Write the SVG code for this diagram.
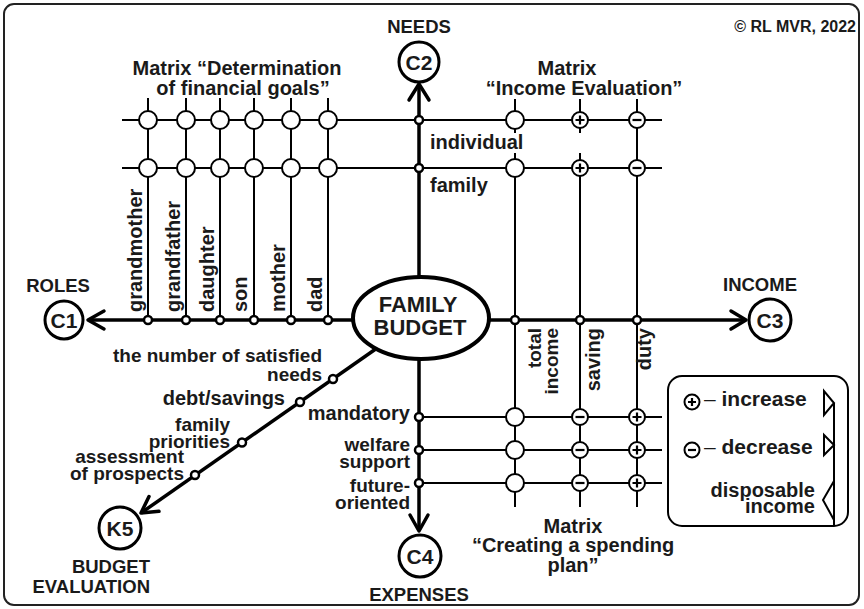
<svg xmlns="http://www.w3.org/2000/svg" width="864" height="609" viewBox="0 0 864 609">
<style>
.t{font-family:"Liberation Sans",Arial,Helvetica,sans-serif;font-weight:bold;font-size:20px;fill:#1a1a1a}
.m{text-anchor:middle}
.e{text-anchor:end}
.h{font-size:18.5px}
.n{font-size:19px}
.ax{stroke:#000;stroke-width:3.5;fill:none}
.ar{stroke:#000;stroke-width:3.5;fill:none;stroke-linecap:round;stroke-linejoin:round}
.ln{stroke:#000;stroke-width:2;fill:none}
.node{fill:#fff;stroke:#000;stroke-width:3}
.c{fill:#fff;stroke:#000;stroke-width:2}
.d{fill:#fff;stroke:#000;stroke-width:2.5}
.s{stroke:#000;stroke-width:2.2;fill:none}
</style>
<defs>
<g id="oc"><circle class="c" r="9"/></g>
<g id="pc"><circle class="c" r="8"/><path class="s" d="M-4.5 0H4.5M0 -4.5V4.5"/></g>
<g id="mc"><circle class="c" r="8"/><path class="s" d="M-4.5 0H4.5"/></g>
<circle id="dot" class="d" r="4"/>
</defs>
<rect x="4" y="4" width="855" height="601" rx="10" fill="#fff" stroke="#222" stroke-width="2"/>
<text class="t e" x="856" y="32" style="font-size:16px">© RL MVR, 2022</text>

<g id="connectors">
<path class="ln" d="M122 120H662M122 168H662"/>
<path class="ln" d="M148 98V320M186 98V320M220 98V320M254 98V320M291 98V320M328 98V320"/>
<path class="ln" d="M515 99V133M515 153V507M580 99V133M580 153V507M637 99V507"/>
<path class="ln" d="M419 417H662M419 450H662M419 483H662"/>
<path class="ax" d="M88 320H746"/>
<path class="ax" d="M419 84V531"/>
<path class="ax" d="M380 346L141 513"/>
<path class="ar" d="M104 311L88 320L104 329"/>
<path class="ar" d="M731 311L746 320L731 329"/>
<path class="ar" d="M409 100L419 84L429 100"/>
<path class="ar" d="M410 515L419 531L428 515"/>
<path class="ar" d="M149 496.5L141 513L159 511.3"/>
</g>

<g id="matrix-goals">
<use href="#oc" x="148" y="120"/><use href="#oc" x="186" y="120"/><use href="#oc" x="220" y="120"/><use href="#oc" x="254" y="120"/><use href="#oc" x="291" y="120"/><use href="#oc" x="328" y="120"/>
<use href="#oc" x="148" y="168"/><use href="#oc" x="186" y="168"/><use href="#oc" x="220" y="168"/><use href="#oc" x="254" y="168"/><use href="#oc" x="291" y="168"/><use href="#oc" x="328" y="168"/>
<use href="#dot" x="148" y="320"/><use href="#dot" x="186" y="320"/><use href="#dot" x="220" y="320"/><use href="#dot" x="254" y="320"/><use href="#dot" x="291" y="320"/><use href="#dot" x="328" y="320"/>
<text class="t" transform="translate(141.5,312) rotate(-90)">grandmother</text>
<text class="t" transform="translate(179.5,312) rotate(-90)">grandfather</text>
<text class="t" transform="translate(213.5,312) rotate(-90)">daughter</text>
<text class="t" transform="translate(247,312) rotate(-90)">son</text>
<text class="t" transform="translate(284.5,312) rotate(-90)">mother</text>
<text class="t" transform="translate(322,312) rotate(-90)">dad</text>
<text class="t m" x="237" y="75">Matrix “Determination</text>
<text class="t m" x="243" y="95">of financial goals”</text>
</g>

<g id="matrix-income">
<use href="#oc" x="515" y="120"/><use href="#pc" x="580" y="120"/><use href="#mc" x="637" y="120"/>
<use href="#oc" x="515" y="168"/><use href="#pc" x="580" y="168"/><use href="#mc" x="637" y="168"/>
<use href="#dot" x="419" y="120"/><use href="#dot" x="419" y="168"/>
<use href="#dot" x="515" y="320"/><use href="#dot" x="580" y="320"/><use href="#dot" x="637" y="320"/>
<text class="t" x="430" y="149">individual</text>
<text class="t" x="430" y="192">family</text>
<text class="t m" x="567" y="75">Matrix</text>
<text class="t m" x="584" y="95">“Income Evaluation”</text>
<text class="t e n" transform="translate(541,328) rotate(-90)">total</text>
<text class="t e n" transform="translate(558,328) rotate(-90)">income</text>
<text class="t e" transform="translate(599.5,328) rotate(-90)">saving</text>
<text class="t e" transform="translate(651,328) rotate(-90)">duty</text>
</g>

<g id="matrix-spending">
<use href="#oc" x="515" y="417"/><use href="#mc" x="580" y="417"/><use href="#pc" x="637" y="417"/>
<use href="#oc" x="515" y="450"/><use href="#mc" x="580" y="450"/><use href="#pc" x="637" y="450"/>
<use href="#oc" x="515" y="483"/><use href="#mc" x="580" y="483"/><use href="#pc" x="637" y="483"/>
<use href="#dot" x="419" y="417"/><use href="#dot" x="419" y="450"/><use href="#dot" x="419" y="483"/>
<text class="t e" x="410" y="420">mandatory</text>
<text class="t e n" x="410" y="451">welfare</text>
<text class="t e n" x="410" y="468">support</text>
<text class="t e n" x="410" y="492">future-</text>
<text class="t e n" x="410" y="509">oriented</text>
<text class="t m" x="573" y="533">Matrix</text>
<text class="t m" x="573" y="552">“Creating a spending</text>
<text class="t m" x="573" y="572">plan”</text>
</g>

<g id="evaluation-criteria">
<use href="#dot" x="333" y="379"/><use href="#dot" x="300" y="402"/><use href="#dot" x="242" y="442.5"/><use href="#dot" x="195" y="475"/>
<text class="t e n" x="322" y="362">the number of satisfied</text>
<text class="t e n" x="322" y="381">needs</text>
<text class="t e" x="285" y="405">debt/savings</text>
<text class="t e n" x="230" y="431">family</text>
<text class="t e n" x="230" y="448">priorities</text>
<text class="t e n" x="184" y="463">assessment</text>
<text class="t e n" x="184" y="480">of prospects</text>
</g>

<g id="family-budget">
<ellipse cx="421" cy="318" rx="68" ry="41" fill="#fff" stroke="#000" stroke-width="4"/>
<text class="t m" x="418" y="312" style="font-size:22px">FAMILY</text>
<text class="t m" x="420" y="335" style="font-size:22px">BUDGET</text>
</g>

<g id="C1">
<circle class="node" cx="64" cy="320" r="19"/>
<text class="t m" x="64" y="327.5" style="font-size:21px">C1</text>
<text class="t m h" x="58" y="292">ROLES</text>
</g>
<g id="C2">
<circle class="node" cx="419" cy="62" r="20"/>
<text class="t m" x="419" y="69.5" style="font-size:21px">C2</text>
<text class="t m h" x="419" y="33">NEEDS</text>
</g>
<g id="C3">
<circle class="node" cx="770" cy="320" r="21"/>
<text class="t m" x="770" y="327.5" style="font-size:21px">C3</text>
<text class="t m h" x="760" y="291">INCOME</text>
</g>
<g id="C4">
<circle class="node" cx="420" cy="556" r="21"/>
<text class="t m" x="420" y="563.5" style="font-size:21px">C4</text>
<text class="t m h" x="419" y="601">EXPENSES</text>
</g>
<g id="K5">
<circle class="node" cx="120" cy="528" r="21"/>
<text class="t m" x="120" y="535.5" style="font-size:21px">K5</text>
<text class="t e h" x="150" y="573">BUDGET</text>
<text class="t e h" x="150" y="593">EVALUATION</text>
</g>

<g id="legend">
<rect x="668" y="376" width="180" height="150" rx="14" fill="#fff" stroke="#000" stroke-width="2"/>
<circle class="c" cx="692" cy="402" r="7.5"/><path class="s" d="M688 402H696M692 398V406"/>
<circle class="c" cx="692" cy="450" r="7.5"/><path class="s" d="M688 450H696"/>
<text class="t" x="704" y="406" style="font-size:21px"><tspan style="font-weight:normal">–</tspan> increase</text>
<text class="t" x="704" y="454" style="font-size:21px"><tspan style="font-weight:normal">–</tspan> decrease</text>
<text class="t e" x="815" y="497">disposable</text>
<text class="t e" x="815" y="513">income</text>
<path class="ln" d="M834 403V526"/>
<path class="ln" d="M824 391V415L834 403Z" fill="#fff"/>
<path class="ln" d="M824 435V455L834 445Z" fill="#fff"/>
<path class="ln" d="M834 481L823 500L834 520" fill="#fff"/>
</g>
</svg>
